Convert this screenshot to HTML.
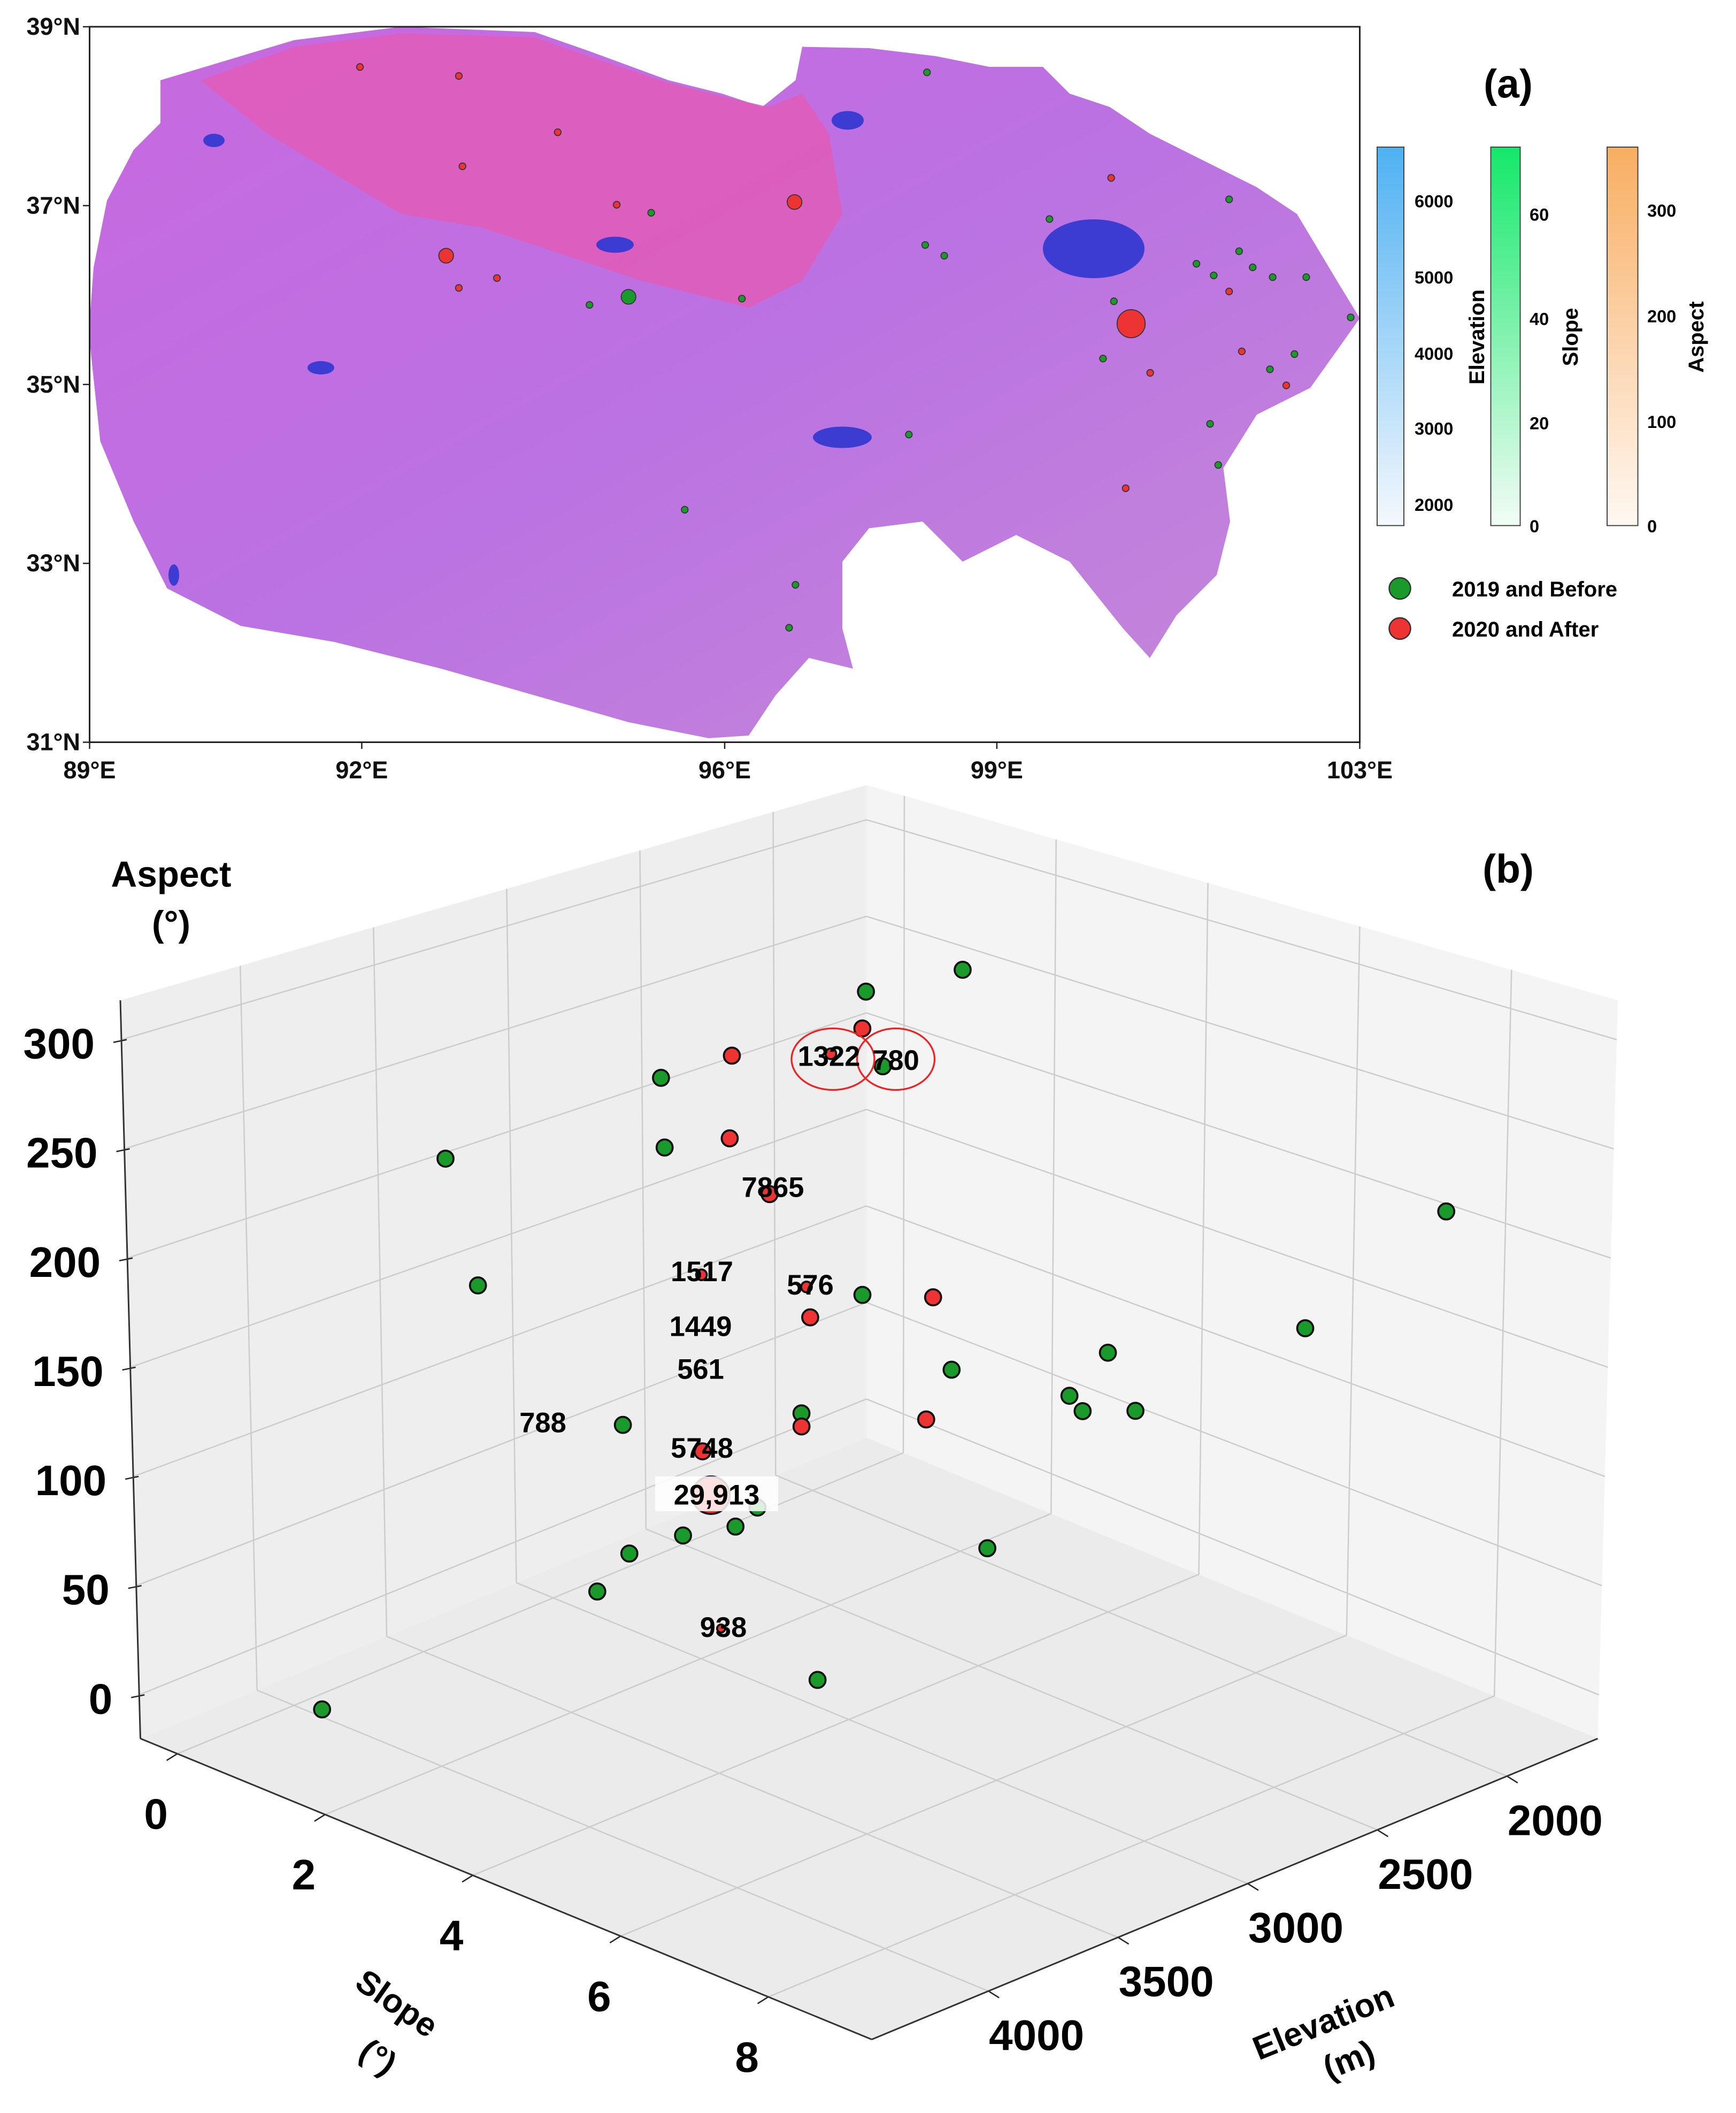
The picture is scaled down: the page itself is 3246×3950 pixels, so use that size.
<!DOCTYPE html>
<html><head><meta charset="utf-8"><style>
html,body{margin:0;padding:0;background:#fff;}
svg{display:block;font-family:"Liberation Sans",sans-serif;}
</style></head><body>
<svg id="fig" width="3246" height="3950" viewBox="0 0 1298.4 1580" xmlns="http://www.w3.org/2000/svg">
<defs>
<linearGradient id="gElev" x1="0" y1="1" x2="0" y2="0"><stop offset="0" stop-color="#f4f8fd"/><stop offset="1" stop-color="#4fb1f2"/></linearGradient>
<linearGradient id="gSlope" x1="0" y1="1" x2="0" y2="0"><stop offset="0" stop-color="#f2fcf5"/><stop offset="1" stop-color="#14e86a"/></linearGradient>
<linearGradient id="gAsp" x1="0" y1="1" x2="0" y2="0"><stop offset="0" stop-color="#fff8f2"/><stop offset="1" stop-color="#f8ae62"/></linearGradient>
<linearGradient id="gMap" x1="0" y1="0" x2="1" y2="1"><stop offset="0" stop-color="#c868e0"/><stop offset="0.5" stop-color="#bb72e2"/><stop offset="1" stop-color="#c58ad8"/></linearGradient>
<clipPath id="mapClip"><rect x="67" y="20" width="950" height="535"/></clipPath>
</defs>

<!-- Panel (a) -->
<g>
<g clip-path="url(#mapClip)">
<polygon fill="url(#gMap)" points="67,255 75,330 100,390 125,440 180,468 250,480 330,500 400,520 470,540 530,552 560,550 580,520 605,492 638,500 630,470 630,420 650,395 690,390 720,420 760,400 800,420 840,470 860,492 880,460 910,430 920,390 915,350 940,310 980,290 1000,262 1017,238 1000,210 970,160 940,140 900,120 860,100 830,80 800,70 780,50 740,50 700,42 650,36 600,35 595,60 570,80 540,70 500,60 440,38 400,24 300,20 220,30 170,45 120,60 120,92 100,112 80,150 70,200 67,240"/>
<polygon fill="#e05cb8" opacity="0.85" points="150,60 220,35 300,25 400,28 440,42 500,62 540,72 575,80 600,70 620,100 630,160 600,210 560,230 480,210 420,190 360,170 300,160 250,130 200,100"/>
<ellipse cx="818" cy="186" rx="38" ry="22" fill="#3c3cd2"/>
<ellipse cx="634" cy="90" rx="12" ry="7" fill="#3c3cd2"/>
<ellipse cx="630" cy="327" rx="22" ry="8" fill="#3c3cd2"/>
<ellipse cx="460" cy="183" rx="14" ry="6" fill="#3c3cd2"/>
<ellipse cx="240" cy="275" rx="10" ry="5" fill="#3c3cd2"/>
<ellipse cx="130" cy="430" rx="4" ry="8" fill="#3c3cd2"/>
<ellipse cx="160" cy="105" rx="8" ry="5" fill="#3c3cd2"/>
</g>
<rect x="67" y="20" width="950" height="535" fill="none" stroke="#222" stroke-width="1.2"/>
<g id="mapAxes" font-weight="bold" font-size="18" fill="#111"></g>
<g id="mapPts"></g>
<text x="1128" y="73" font-size="30" font-weight="bold" text-anchor="middle">(a)</text>
<g>
<rect x="1030" y="110" width="20" height="283" fill="url(#gElev)" stroke="#444" stroke-width="0.8"/>
<g font-size="13" font-weight="bold"><text x="1058" y="155">6000</text><text x="1058" y="212">5000</text><text x="1058" y="269">4000</text><text x="1058" y="325">3000</text><text x="1058" y="382">2000</text></g>
<text x="1110" y="252" font-size="16" font-weight="bold" text-anchor="middle" transform="rotate(-90 1110 252)">Elevation</text>
</g>
<g>
<rect x="1115" y="110" width="22" height="283" fill="url(#gSlope)" stroke="#444" stroke-width="0.8"/>
<g font-size="13" font-weight="bold"><text x="1144" y="165">60</text><text x="1144" y="243">40</text><text x="1144" y="321">20</text><text x="1144" y="398">0</text></g>
<text x="1180" y="252" font-size="16" font-weight="bold" text-anchor="middle" transform="rotate(-90 1180 252)">Slope</text>
</g>
<g>
<rect x="1202" y="110" width="23" height="283" fill="url(#gAsp)" stroke="#444" stroke-width="0.8"/>
<g font-size="13" font-weight="bold"><text x="1232" y="162">300</text><text x="1232" y="241">200</text><text x="1232" y="320">100</text><text x="1232" y="398">0</text></g>
<text x="1274" y="252" font-size="16" font-weight="bold" text-anchor="middle" transform="rotate(-90 1274 252)">Aspect</text>
</g>
<g font-size="16" font-weight="bold">
<circle cx="1047" cy="440" r="8" fill="#1a9a2a" stroke="#333"/>
<text x="1086" y="446">2019 and Before</text>
<circle cx="1047" cy="470" r="8" fill="#ee3333" stroke="#333"/>
<text x="1086" y="476">2020 and After</text>
</g>
</g>

<!-- Panel (b) -->
<g id="p3d"></g>
<text x="1128" y="660" font-size="30" font-weight="bold" text-anchor="middle">(b)</text>
<g font-size="27" font-weight="bold" text-anchor="middle">
<text x="128" y="663">Aspect</text><text x="128" y="700">(°)</text></g>
<g font-size="25" font-weight="bold" text-anchor="middle">
<text x="292" y="1505" transform="rotate(35 292 1505)">Slope</text><text x="278" y="1545" transform="rotate(35 278 1545)">(°)</text></g>
<g font-size="25" font-weight="bold" text-anchor="middle">
<text x="993" y="1520" transform="rotate(-22 993 1520)">Elevation</text><text x="1012" y="1548" transform="rotate(-22 1012 1548)">(m)</text></g>
</svg>
<script>
// ---- Map data (panel a) ----
const mapGreenLon=[98.23,95.19,99.58,101.56,98.21,98.42,101.67,101.20,101.82,101.39,102.04,102.41,102.28,102.01,100.17,100.29,102.90,96.19,94.51,101.35,101.44,98.03,95.56,96.78,96.71,94.94];
const mapGreenLat=[38.49,36.92,36.85,37.07,36.56,36.44,36.49,36.35,36.31,36.22,36.20,36.20,35.34,35.17,35.29,35.93,35.75,35.96,35.89,34.56,34.10,34.44,33.60,32.76,32.28,35.98];
const mapGreenR=[2.5,2.5,2.5,2.5,2.5,2.5,2.5,2.5,2.5,2.5,2.5,2.5,2.5,2.5,2.5,2.5,2.5,2.5,2.5,2.5,2.5,2.5,2.5,2.5,2.5,5.5];
const mapRedLon=[91.98,93.07,94.16,93.11,94.81,100.26,101.56,93.07,93.49,101.70,100.69,102.19,100.42,96.77,92.93,100.48];
const mapRedLat=[38.55,38.45,37.82,37.44,37.01,37.31,36.04,36.08,36.19,35.37,35.13,34.99,33.84,37.04,36.44,35.68];
const mapRedR=[2.5,2.5,2.5,2.5,2.5,2.5,2.5,2.5,2.5,2.5,2.5,2.5,2.5,5.5,5.5,10.5];
const lonTicks=[89,92,96,99,103];
const latTicks=[39,37,35,33,31];

// ---- 3D scatter data (panel b) ----
const ptElevation=[2890,3056,3061,3284,3027,3406,3288,3400,3775,3221,2062,3722,3338,3159,3061,2941,3151,2300,2638,2907,2706,2681,2591,3168,2952,3168,3476,3338,3324,3243,3282,3372,3467,2845,3523,3308,3140,4005,3114];
const ptSlope=[5.12,4.43,4.40,3.46,4.55,2.95,3.44,2.97,1.38,3.73,8.64,1.60,3.23,4.00,4.40,4.92,4.02,7.63,6.19,5.05,5.92,6.01,6.40,3.96,4.87,3.96,2.65,3.23,3.29,3.63,3.47,3.08,2.69,5.32,2.45,3.36,4.07,0.40,4.17];
const ptAspect=[333,322,305,291,288,280,253,248,240,228,229,182,190,186,183,183,172,174,160,150,140,133,134,128,127,122,120,109,89,84,75,70,61,69,43,28,6,-16,293];
const ptGroup=["B","B","A","A","B","B","A","B","B","A","B","B","A","A","B","A","A","B","B","B","B","B","B","B","A","A","B","A","A","B","B","B","B","B","B","A","B","B","A"];
const ptRadius=[6,6,6,6,6,6,6,6,6,6,6,6,4,4,6,6,6,6,6,6,6,6,6,6,6,6,6,6,14,6,6,6,6,6,6,3,6,6,4];
const aspectTicks=[0,50,100,150,200,250,300];
const slopeTicks=[0,2,4,6,8];
const elevTicks=[2000,2500,3000,3500,4000];
const countLabels=["1322","780","7865","1517","576","1449","561","788","5748","29,913","938"];
const countLabelLon=[620,670,578,525,606,524,524,406,525,536,541];
const countLabelLat=[797,800,895,958,968,999,1031,1071,1090,1125,1224];

const NS="http://www.w3.org/2000/svg";
function mk(tag,attrs,parent){const e=document.createElementNS(NS,tag);for(const k in attrs)e.setAttribute(k,attrs[k]);parent.appendChild(e);return e;}

// map axes
const mx=lon=>67+(lon-89)/14*950;
const my=lat=>20+(39-lat)/8*535;
const mapAxes=document.getElementById('mapAxes');
lonTicks.forEach(v=>{
  const t=mk('text',{x:mx(v),y:582,'text-anchor':'middle'},mapAxes);
  
  
  t.textContent=v+'°E';
  const l=mk('line',{x1:mx(v),y1:555,x2:mx(v),y2:560,stroke:'#222'},mapAxes);
  
  
});
latTicks.forEach(v=>{
  const t=mk('text',{x:60,y:my(v)+6,'text-anchor':'end'},mapAxes);
  
  
  t.textContent=v+'°N';
  const l=mk('line',{x1:62,y1:my(v),x2:67,y2:my(v),stroke:'#222'},mapAxes);
  
  
});
const mapPts=document.getElementById('mapPts');
mapGreenLon.forEach((lon,i)=>{
  const c=mk('circle',{cx:mx(lon),cy:my(mapGreenLat[i]),r:mapGreenR[i],fill:'#1a9a2a',stroke:'#333','stroke-width':0.7},mapPts);
  
  
});
mapRedLon.forEach((lon,i)=>{
  const c=mk('circle',{cx:mx(lon),cy:my(mapRedLat[i]),r:mapRedR[i],fill:'#ee3333',stroke:'#333','stroke-width':0.7},mapPts);
  
  
});

// 3D projection
const SMIN=-0.5,SMAX=9.4,EMIN=1650,EMAX=4450,WMIN=-20,WMAX=318;
function P(s,e,w){
  const a=(SMAX-s)/(SMAX-SMIN), b=(EMAX-e)/(EMAX-EMIN), t=(w-WMIN)/(WMAX-WMIN);
  return [652-547*a+543*b+t*15*(b-a), 1525-225*(a+b)-t*(616-64*(a+b)), a+b];
}
const g=document.getElementById('p3d');
function poly(pts,fill,name){
  const p=mk('polygon',{points:pts.map(q=>q[0]+','+q[1]).join(' '),fill:fill,stroke:'none'},g);
  
  
}
poly([P(SMIN,EMAX,WMIN),P(SMIN,EMIN,WMIN),P(SMIN,EMIN,WMAX),P(SMIN,EMAX,WMAX)],'#eeeeee','left-pane');
poly([P(SMIN,EMIN,WMIN),P(SMAX,EMIN,WMIN),P(SMAX,EMIN,WMAX),P(SMIN,EMIN,WMAX)],'#f4f4f4','right-pane');
poly([P(SMIN,EMAX,WMIN),P(SMIN,EMIN,WMIN),P(SMAX,EMIN,WMIN),P(SMAX,EMAX,WMIN)],'#ebebeb','floor-pane');
function ln(p,q,stroke,sw,name){
  const l=mk('line',{x1:p[0],y1:p[1],x2:q[0],y2:q[1],stroke:stroke,'stroke-width':sw},g);
  
  
}
const GC='#cccccc';
aspectTicks.forEach(w=>{
  ln(P(SMIN,EMAX,w),P(SMIN,EMIN,w),GC,1,'aspect-gridline');
  ln(P(SMIN,EMIN,w),P(SMAX,EMIN,w),GC,1,'aspect-gridline');
  const p=P(SMIN,EMAX,w);
  ln([p[0]-6,p[1]+2],[p[0]+4,p[1]],'#222',1,'aspect-tick');
  const t=mk('text',{x:p[0]-20,y:p[1]+14,'text-anchor':'end','font-size':32,'font-weight':'bold'},g);
  
  
  t.textContent=w;
});
elevTicks.forEach(e=>{
  ln(P(SMIN,e,WMIN),P(SMIN,e,WMAX),GC,1,'elevation-gridline');
  ln(P(SMIN,e,WMIN),P(SMAX,e,WMIN),GC,1,'elevation-gridline');
  const p=P(SMAX,e,WMIN);
  ln(p,[p[0]+8,p[1]+5],'#222',1,'elevation-tick');
  const t=mk('text',{x:p[0]+36,y:p[1]+44,'text-anchor':'middle','font-size':32,'font-weight':'bold'},g);
  
  
  t.textContent=e;
});
slopeTicks.forEach(s=>{
  ln(P(s,EMIN,WMIN),P(s,EMIN,WMAX),GC,1,'slope-gridline');
  ln(P(s,EMAX,WMIN),P(s,EMIN,WMIN),GC,1,'slope-gridline');
  const p=P(s,EMAX,WMIN);
  ln(p,[p[0]-8,p[1]+5],'#222',1,'slope-tick');
  const t=mk('text',{x:p[0]-16,y:p[1]+56,'text-anchor':'middle','font-size':32,'font-weight':'bold'},g);
  
  
  t.textContent=s;
});
ln(P(SMIN,EMAX,WMIN),P(SMIN,EMAX,WMAX),'#333',1.2,'aspect-axis-line');
ln(P(SMIN,EMAX,WMIN),P(SMAX,EMAX,WMIN),'#333',1.2,'slope-axis-line');
ln(P(SMAX,EMAX,WMIN),P(SMAX,EMIN,WMIN),'#333',1.2,'elevation-axis-line');

// points, back to front
const order=ptElevation.map((_,i)=>i).sort((i,j)=>P(ptSlope[j],ptElevation[j],ptAspect[j])[2]-P(ptSlope[i],ptElevation[i],ptAspect[i])[2]);
order.forEach(i=>{
  const p=P(ptSlope[i],ptElevation[i],ptAspect[i]);
  const c=mk('circle',{cx:p[0],cy:p[1],r:ptRadius[i],fill:ptGroup[i]==='A'?'#ee3333':'#1a9a2a',stroke:'#111','stroke-width':1.5},g);
  
  
});
// highlight ellipses
const e1=mk('ellipse',{cx:623,cy:792,rx:31,ry:23,fill:'none',stroke:'#ee2222','stroke-width':1.3},g);


const e2=mk('ellipse',{cx:670,cy:792,rx:29,ry:23,fill:'none',stroke:'#ee2222','stroke-width':1.3},g);


const bx=mk('rect',{x:490,y:1104,width:92,height:26,fill:'#ffffff',opacity:0.85},g);


countLabels.forEach((s,i)=>{
  const t=mk('text',{x:countLabelLon[i],y:countLabelLat[i],'text-anchor':'middle','font-size':21,'font-weight':'bold',fill:'#000'},g);
  
  
  t.textContent=s;
});
</script>
</body></html>
